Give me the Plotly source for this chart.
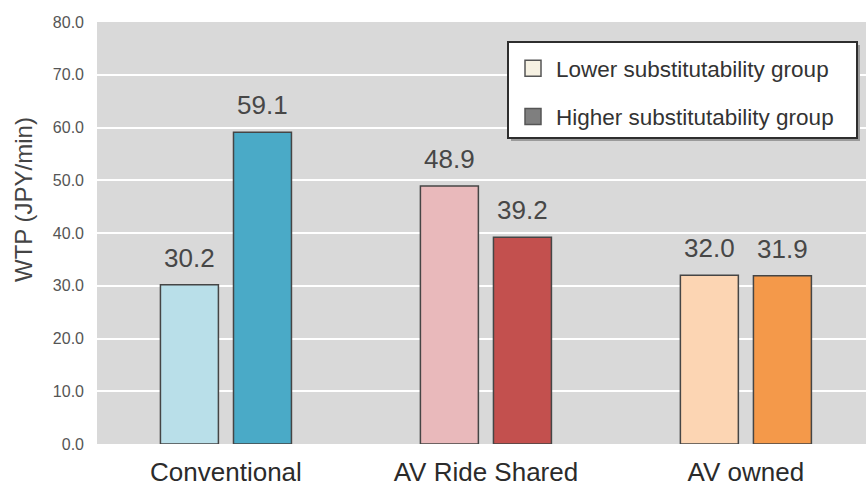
import plotly.graph_objects as go

# Willingness to pay by travel mode, split by substitutability group
categories = ["Conventional", "AV Ride Shared", "AV owned"]
lower_group = [30.2, 48.9, 32.0]
higher_group = [59.1, 39.2, 31.9]
group_names = ["Lower substitutability group", "Higher substitutability group"]
y_ticks = [0, 10, 20, 30, 40, 50, 60, 70, 80]

# per-mode colours: light shade for the lower group, strong shade for the higher group
lower_colors = ["#b9dfe9", "#e9b9bb", "#fcd5b3"]
higher_colors = ["#4aaac7", "#c3504e", "#f4994a"]
legend_colors = ["#f6f1e2", "#7f7f7f"]

FONT = "Liberation Sans, Arial, Helvetica, sans-serif"
W, H = 866, 487
ML, MR, MT, MB = 97, 0, 22, 43
PW, PH = W - ML - MR, H - MT - MB

BAR_W = 0.223
OFFSETS = [-0.252, 0.029]


def px_x(px):
    return (px - ML) / PW


def px_y(py):
    return (H - MB - py) / PH


fig = go.Figure()
for vals, cols, off in [(lower_group, lower_colors, OFFSETS[0]),
                        (higher_group, higher_colors, OFFSETS[1])]:
    fig.add_trace(go.Bar(
        x=categories, y=vals, width=BAR_W, offset=off,
        marker=dict(color=cols, line=dict(color="#454545", width=1.5)),
        showlegend=False, hoverinfo="x+y",
    ))
    for i, v in enumerate(vals):
        fig.add_annotation(
            x=i + off + BAR_W / 2, y=v, xref="x", yref="y",
            text=f"{v:.1f}", showarrow=False, yanchor="bottom", yshift=10,
            font=dict(family=FONT, size=26, color="#474747"),
        )

# legend entries
for name, col, grp in zip(group_names, legend_colors, ["a", "b"]):
    fig.add_trace(go.Scatter(
        x=[None], y=[None], mode="markers", name=name, legendgroup=grp,
        marker=dict(symbol="square", size=16, color=col,
                    line=dict(color="#555555", width=1.5)),
    ))

# legend frame with a soft drop shadow
fig.add_shape(type="rect", xref="paper", yref="paper",
              x0=px_x(511), x1=px_x(860), y0=px_y(141), y1=px_y(45),
              fillcolor="#9a9a9a", line=dict(width=0), layer="above")
fig.add_shape(type="rect", xref="paper", yref="paper",
              x0=px_x(508), x1=px_x(857), y0=px_y(138), y1=px_y(42),
              fillcolor="white", line=dict(color="#2e2e2e", width=2),
              layer="above")

# y-axis title
fig.add_annotation(
    x=px_x(23), y=px_y(200), xref="paper", yref="paper",
    xanchor="center", yanchor="middle",
    text="WTP (JPY/min)", textangle=-90, showarrow=False,
    font=dict(family=FONT, size=24, color="#444444"),
)

fig.update_layout(
    width=W, height=H,
    margin=dict(l=ML, r=MR, t=MT, b=MB, pad=0),
    paper_bgcolor="white", plot_bgcolor="#d9d9d9",
    font=dict(family=FONT, color="#3a3a3a"),
    showlegend=True,
    legend=dict(
        x=px_x(510), xanchor="left", y=px_y(47), yanchor="top",
        bgcolor="rgba(0,0,0,0)", borderwidth=0,
        font=dict(family=FONT, size=22.5, color="#333333"),
        tracegroupgap=16, itemwidth=36,
    ),
    xaxis=dict(
        range=[-0.496, 2.462], showgrid=False, zeroline=False, showline=False,
        ticks="", tickfont=dict(family=FONT, size=26, color="#2b2b2b"),
        ticklabelstandoff=10, fixedrange=True,
    ),
    yaxis=dict(
        range=[0, 80], tickvals=y_ticks, tickformat=".1f",
        showgrid=True, gridcolor="white", gridwidth=2, zeroline=False,
        showline=False, ticks="",
        tickfont=dict(family=FONT, size=16, color="#555555"),
        ticklabelstandoff=12,
        fixedrange=True,
    ),
)

fig.write_html("out.html")
